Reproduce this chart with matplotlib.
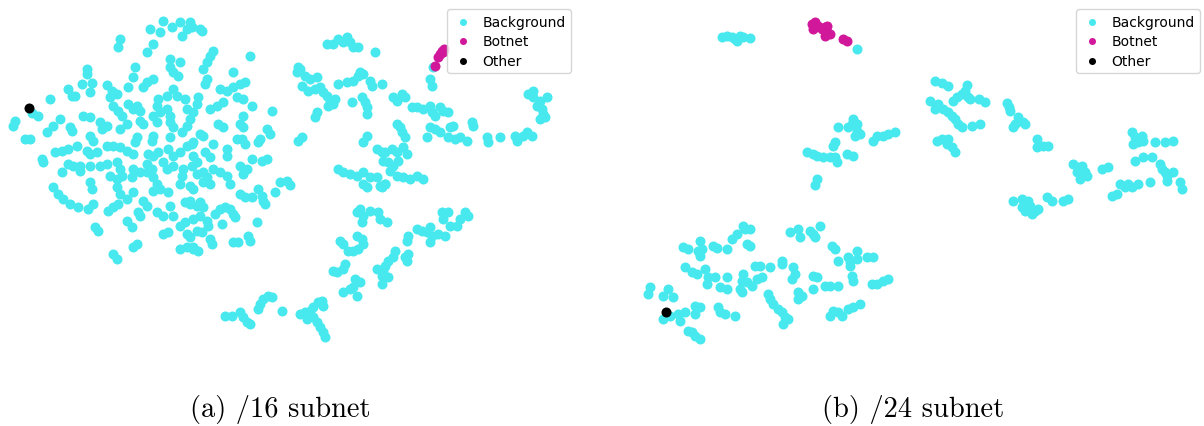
import numpy as np
import matplotlib.pyplot as plt

# t-SNE embedding of hosts, /16 subnet aggregation
bg16 = [
    (163, 22), (180, 23), (187, 30), (150, 30), (160, 33), (172, 28), (182, 37), (200, 30),
    (120, 40), (118, 48), (153, 45), (147, 53),
    (170, 60), (180, 63), (170, 68), (173, 73), (178, 77),
    (135, 68), (133, 78), (128, 88), (147, 83), (153, 80), (143, 88),
    (87, 70), (87, 75), (82, 85), (92, 84), (90, 93), (68, 90), (50, 100),
    (107, 86), (112, 92), (117, 95), (110, 98),
    (173, 90), (167, 97), (177, 97), (158, 100), (185, 100), (75, 97), (72, 97),
    (113, 107), (118, 112), (122, 117), (128, 105), (133, 110), (137, 107), (140, 112),
    (157, 107), (160, 113), (167, 110), (170, 117), (187, 110), (193, 113),
    (32, 114), (38, 117), (15, 122), (13, 127),
    (60, 120), (53, 127), (47, 133), (83, 117), (90, 118),
    (100, 123), (107, 127), (102, 130), (127, 125), (120, 130), (140, 122), (143, 125),
    (153, 117), (157, 123), (170, 123), (173, 128), (190, 120), (187, 127), (182, 133),
    (70, 128), (72, 132), (25, 140), (30, 140), (90, 137), (93, 142),
    (137, 138), (135, 143), (153, 137), (152, 142), (170, 138), (193, 143),
    (55, 153), (62, 152), (68, 150), (77, 147), (87, 152), (90, 155), (97, 153),
    (107, 147), (113, 147), (120, 148), (133, 155), (127, 152),
    (148, 155), (153, 157), (158, 153), (168, 150), (173, 157), (180, 153), (187, 147), (192, 145),
    (42, 160), (43, 163), (68, 165), (73, 167), (80, 167), (90, 167), (100, 167), (107, 165),
    (117, 163), (120, 170), (62, 173), (133, 170), (140, 173), (147, 165), (152, 170),
    (163, 163), (167, 170), (173, 167), (183, 170), (192, 167),
    (53, 188), (58, 195), (63, 200), (70, 205), (78, 208), (80, 172),
    (90, 183), (92, 190), (88, 210), (93, 205),
    (110, 177), (117, 180), (122, 177), (117, 188), (120, 195), (127, 200),
    (132, 178), (133, 193), (108, 212), (113, 208), (118, 205),
    (95, 228), (98, 232), (127, 222), (132, 228),
    (147, 173), (153, 178), (157, 185), (153, 192), (160, 190), (168, 193),
    (180, 185), (182, 177), (190, 187), (193, 190), (143, 202), (147, 207),
    (138, 213), (140, 217), (157, 213), (163, 217), (170, 207), (173, 217),
    (185, 203), (190, 205), (197, 207), (180, 227), (185, 223), (163, 235), (168, 233),
    (187, 235), (190, 238), (133, 248), (137, 245), (180, 250), (187, 248), (193, 250),
    (113, 255), (117, 260),
    (190, 23), (192, 28), (202, 32), (213, 52), (210, 57), (207, 63), (203, 70),
    (250, 57), (233, 73), (207, 80), (205, 85),
    (220, 90), (227, 92), (233, 88), (240, 85), (245, 83),
    (198, 98), (197, 105), (237, 98), (243, 100), (210, 110), (217, 107), (223, 103),
    (252, 107), (272, 112), (243, 117), (240, 125), (243, 128), (218, 125), (223, 128),
    (267, 130), (270, 135), (200, 135), (203, 137), (237, 140), (242, 140), (245, 145),
    (260, 140), (258, 143), (213, 145), (227, 150), (227, 157), (205, 153), (210, 158),
    (193, 157), (197, 163), (252, 160), (262, 162), (267, 160), (240, 167), (247, 170),
    (213, 170), (220, 173), (203, 173),
    (197, 175), (207, 178), (210, 185), (203, 183), (227, 177), (243, 175), (230, 185),
    (280, 183), (287, 182), (290, 186), (275, 193),
    (240, 195), (245, 198), (252, 198), (258, 190), (262, 197), (263, 202), (265, 205),
    (190, 202), (200, 203), (203, 208),
    (215, 215), (220, 210), (225, 208), (230, 210), (233, 215), (235, 218),
    (193, 220), (200, 217), (207, 222), (208, 227), (222, 225), (257, 223),
    (197, 232), (202, 233), (210, 240), (212, 245), (193, 248), (198, 252),
    (233, 243), (238, 243), (248, 237), (250, 242),
    (327, 45), (333, 45), (338, 40), (343, 43), (347, 38), (350, 43), (353, 48), (358, 48),
    (375, 53), (298, 68), (297, 73), (300, 70), (305, 77), (310, 80), (317, 78),
    (302, 87), (308, 92), (315, 90), (320, 88), (323, 93), (327, 97), (330, 102), (335, 100),
    (328, 107), (333, 105),
    (338, 85), (347, 83), (353, 82), (358, 77), (363, 75), (370, 82), (372, 87), (382, 85),
    (360, 73), (352, 103), (362, 98), (365, 103), (367, 108), (367, 115),
    (317, 113), (315, 118), (302, 138), (298, 142), (367, 137), (363, 143),
    (377, 150), (382, 153), (383, 162),
    (338, 170), (343, 173), (350, 175), (357, 177), (363, 173), (370, 178), (377, 178),
    (363, 185), (367, 188), (380, 187), (385, 185),
    (357, 213), (360, 210), (363, 217), (362, 223), (370, 212), (378, 213), (380, 220), (387, 223),
    (340, 242), (343, 245),
    (357, 237), (362, 240), (363, 245), (358, 250), (353, 252), (348, 252),
    (333, 272), (337, 273), (345, 265), (343, 270), (377, 270),
    (355, 280), (360, 283), (343, 293), (350, 290), (353, 288), (357, 297),
    (225, 317), (232, 317), (240, 313), (243, 318), (247, 323), (250, 325),
    (260, 305), (263, 300), (268, 297), (272, 298), (258, 310), (282, 312),
    (300, 315), (305, 313), (310, 312), (313, 308), (318, 303), (322, 302), (323, 307),
    (307, 320), (313, 318), (317, 323), (320, 328), (323, 333), (325, 338),
    (433, 68), (430, 80), (432, 87),
    (393, 98), (397, 102), (402, 95), (405, 98), (412, 108), (417, 108),
    (423, 110), (430, 107), (432, 113), (435, 117), (440, 108), (443, 112), (448, 113),
    (397, 125), (400, 128), (402, 133), (405, 138), (430, 128), (435, 130), (440, 133),
    (427, 138), (450, 128), (453, 127),
    (448, 138), (455, 140), (460, 138), (467, 142), (472, 123), (473, 127),
    (487, 138), (488, 143), (500, 138),
    (515, 137), (517, 142), (523, 137), (527, 133), (532, 137),
    (528, 95), (533, 92), (533, 98), (540, 102), (547, 98),
    (537, 107), (542, 110), (543, 115), (540, 120), (545, 118),
    (385, 153), (392, 150), (397, 153), (403, 148), (407, 155),
    (388, 163), (393, 167), (398, 162),
    (390, 172), (397, 177), (403, 178), (410, 180), (417, 177), (423, 180),
    (385, 185), (382, 188),
    (442, 213), (448, 213), (443, 220),
    (450, 227), (457, 227), (460, 220), (465, 213), (468, 217), (438, 235), (445, 237),
    (417, 230), (422, 232), (427, 233), (430, 228), (432, 237), (430, 243),
    (408, 237), (407, 242),
    (395, 252), (393, 258), (388, 262), (385, 267), (383, 272), (382, 277), (388, 278), (382, 285),
    (408, 255), (405, 258), (407, 262),
]
bot16 = [(442, 52), (440, 55), (438, 58), (443, 53), (444, 50), (435, 67)]
other16 = [(29, 109)]

# t-SNE embedding of hosts, /24 subnet aggregation
bg24 = [
    (722, 38), (727, 37), (732, 38), (735, 40), (737, 42), (740, 37), (743, 38), (750, 39),
    (857, 50),
    (807, 153), (813, 155), (817, 157), (823, 158), (830, 158), (835, 158), (837, 163),
    (847, 155), (853, 157), (817, 180), (815, 186),
    (935, 82), (942, 84), (948, 87),
    (967, 86), (965, 92), (962, 95), (957, 98), (953, 102), (968, 98), (970, 100),
    (979, 100), (985, 103), (930, 102), (938, 105), (935, 110),
    (943, 110), (948, 113), (952, 117), (955, 120), (958, 125), (962, 128),
    (972, 127), (980, 125), (1007, 104), (1009, 108),
    (1010, 112), (1018, 118), (1015, 125), (1013, 128), (1023, 123), (1025, 125),
    (937, 142), (942, 140), (948, 140), (947, 145), (952, 148), (955, 153),
    (853, 120), (852, 125), (857, 125), (848, 128), (857, 132), (855, 137), (860, 135),
    (838, 128), (873, 142), (877, 137), (883, 137), (888, 135), (895, 133),
    (835, 143), (833, 147),
    (1037, 140), (1037, 148), (1043, 147), (1048, 147),
    (1132, 133), (1135, 138), (1142, 137), (1133, 145), (1138, 143), (1143, 142),
    (1155, 143), (1165, 143), (1173, 142), (1135, 162), (1143, 158), (1152, 158),
    (1160, 165), (1162, 170), (1165, 173), (1167, 177), (1173, 173), (1167, 182),
    (1073, 165), (1078, 168), (1082, 167), (1077, 173), (1085, 173), (1080, 180), (1087, 177),
    (1102, 170), (1108, 168),
    (1013, 202), (1022, 200), (1028, 202), (1030, 207), (1022, 208), (1025, 212),
    (1032, 215), (1035, 212), (1038, 210), (1047, 198), (1052, 202), (1063, 202), (1068, 200),
    (1112, 197), (1117, 195), (1120, 185), (1125, 188), (1128, 185), (1132, 188), (1138, 185),
    (1150, 183), (1180, 183), (1182, 190),
    (820, 227), (832, 247), (835, 250), (838, 262),
    (848, 258), (850, 263), (850, 267), (857, 260), (857, 252), (867, 258), (873, 258),
    (852, 277), (853, 282), (825, 287), (830, 287), (838, 287),
    (872, 285), (877, 285), (883, 282), (888, 280),
    (830, 317), (833, 312), (838, 313), (842, 317), (848, 310), (853, 308), (860, 305),
    (683, 248), (688, 250), (700, 242), (702, 250), (698, 252), (700, 257),
    (713, 247), (717, 249), (727, 250), (732, 240), (737, 235),
    (743, 227), (745, 230), (750, 230), (747, 245), (750, 247),
    (790, 233), (798, 230), (800, 238), (810, 232), (813, 235), (815, 238),
    (685, 268), (692, 273), (697, 275), (705, 270), (708, 278), (715, 278), (727, 278),
    (707, 285), (720, 288), (727, 290),
    (743, 275), (742, 282), (747, 283), (752, 287), (740, 290), (742, 293),
    (755, 267), (760, 267), (757, 280), (762, 278), (770, 268), (782, 262), (782, 265),
    (793, 268), (795, 275), (792, 280), (813, 277), (817, 278), (813, 290),
    (768, 295), (770, 300), (773, 305), (778, 310), (782, 313), (785, 318), (788, 320), (783, 325),
    (798, 293), (802, 297), (798, 300),
    (650, 288), (648, 295), (663, 297), (668, 290), (673, 298),
    (663, 320), (670, 317), (678, 315), (685, 313), (680, 322),
    (695, 307), (700, 308), (695, 315),
    (718, 308), (720, 313), (725, 315), (735, 317),
    (688, 332), (692, 333), (695, 337), (700, 340),
]
bot24 = [(812, 25), (815, 23), (818, 27), (813, 30), (822, 30), (825, 37), (827, 27),
         (825, 28), (827, 33), (830, 35), (843, 40), (847, 42)]
other24 = [(666, 313)]

captions = ["(a) /16 subnet", "(b) /24 subnet"]
labels = ["Background", "Botnet", "Other"]
colors = ["#47e9ee", "#d1189b", "#000000"]

W, H = 1204, 427
fig = plt.figure(figsize=(W / 100, H / 100), dpi=100)

panels = [
    ((0, 575), (bg16, bot16, other16), captions[0], 280),
    ((635, 1204), (bg24, bot24, other24), captions[1], 913),
]
top, bottom = 0, 360

for (x0, x1), groups, cap, cx in panels:
    ax = fig.add_axes([x0 / W, 1 - bottom / H, (x1 - x0) / W, (bottom - top) / H])
    for pts, lab, col in zip(groups, labels, colors):
        p = np.array(pts, dtype=float)
        ax.scatter(p[:, 0], p[:, 1], s=52, c=col, label=lab, linewidths=0)
    ax.set_xlim(x0, x1)
    ax.set_ylim(bottom, top)
    ax.axis("off")
    ax.legend(loc="upper right", bbox_to_anchor=(x1 - 4, 10),
              bbox_transform=ax.transData, borderaxespad=0, fontsize=10,
              markerscale=0.7, handlelength=1.5, handletextpad=0.6,
              labelspacing=0.4)
    fig.text(cx / W, 1 - 410 / H, cap, ha="center", va="center",
             fontsize=20.5, family="cmr10")

fig.savefig("out.png", dpi=100)
